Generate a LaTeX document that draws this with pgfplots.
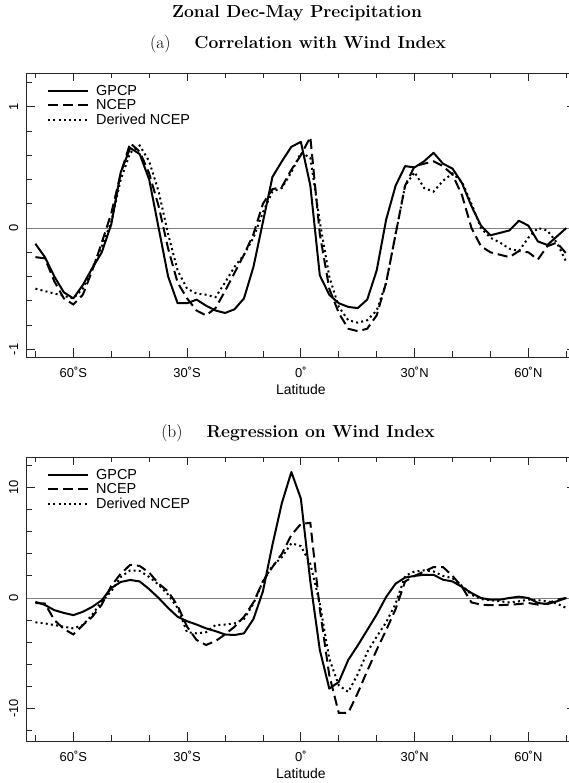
\documentclass[border=0pt]{standalone}
\usepackage{fontspec}
\usepackage{pgfplots}
\pgfplotsset{compat=1.18}
\usepackage{pgfplotstable}
\newfontfamily\hv{Liberation Sans}

\pgfplotstableread{
lat G N D
-70.0 -0.13 -0.24 -0.50
-67.5 -0.24 -0.25 -0.52
-65.0 -0.40 -0.44 -0.54
-62.5 -0.53 -0.58 -0.56
-60.0 -0.58 -0.63 -0.58
-57.5 -0.47 -0.55 -0.50
-55.0 -0.33 -0.35 -0.33
-52.5 -0.20 -0.12 -0.15
-50.0 0.03 0.12 0.05
-47.5 0.46 0.45 0.40
-45.0 0.66 0.70 0.62
-42.5 0.61 0.63 0.68
-40.0 0.40 0.45 0.55
-37.5 0.00 0.18 0.30
-35.0 -0.40 -0.17 -0.05
-32.5 -0.62 -0.45 -0.35
-30.0 -0.62 -0.58 -0.50
-27.5 -0.59 -0.68 -0.54
-25.0 -0.64 -0.72 -0.55
-22.5 -0.68 -0.66 -0.57
-20.0 -0.70 -0.52 -0.45
-17.5 -0.67 -0.37 -0.32
-15.0 -0.58 -0.22 -0.22
-12.5 -0.32 -0.05 -0.08
-10.0 0.05 0.20 0.13
-7.5 0.42 0.32 0.30
-5.0 0.55 0.34 0.33
-2.5 0.67 0.48 0.46
0.0 0.71 0.60 0.62
2.5 0.35 0.75 0.58
5.0 -0.39 -0.05 0.05
7.5 -0.55 -0.50 -0.40
10.0 -0.62 -0.70 -0.65
12.5 -0.65 -0.83 -0.76
15.0 -0.66 -0.85 -0.78
17.5 -0.59 -0.83 -0.76
20.0 -0.35 -0.72 -0.68
22.5 0.07 -0.45 -0.45
25.0 0.35 -0.05 -0.05
27.5 0.51 0.35 0.35
30.0 0.50 0.51 0.46
32.5 0.55 0.53 0.33
35.0 0.62 0.55 0.30
37.5 0.53 0.51 0.39
40.0 0.49 0.44 0.45
42.5 0.37 0.27 0.38
45.0 0.18 0.00 0.20
47.5 0.02 -0.15 0.00
50.0 -0.06 -0.20 -0.08
52.5 -0.04 -0.22 -0.12
55.0 -0.02 -0.24 -0.17
57.5 0.06 -0.19 -0.19
60.0 0.02 -0.20 -0.08
62.5 -0.11 -0.26 0.00
65.0 -0.14 -0.15 -0.02
67.5 -0.07 -0.12 -0.12
70.0 0.00 -0.21 -0.28
}\corr

\pgfplotstableread{
lat G N D
-70.0 -0.35 -0.45 -2.20
-67.5 -0.63 -0.50 -2.30
-65.0 -1.10 -2.00 -2.45
-62.5 -1.35 -2.80 -2.60
-60.0 -1.55 -3.30 -2.75
-57.5 -1.25 -2.45 -2.45
-55.0 -0.80 -1.70 -1.50
-52.5 -0.20 -0.60 -0.30
-50.0 0.90 1.10 0.60
-47.5 1.45 2.20 1.90
-45.0 1.63 3.00 2.50
-42.5 1.50 2.90 2.45
-40.0 0.80 2.30 1.90
-37.5 0.00 1.30 1.20
-35.0 -0.90 0.60 0.30
-32.5 -1.70 -0.70 -0.90
-30.0 -2.10 -2.60 -3.10
-27.5 -2.40 -3.80 -3.20
-25.0 -2.75 -4.25 -3.10
-22.5 -3.00 -3.90 -2.45
-20.0 -3.30 -3.30 -2.40
-17.5 -3.35 -2.60 -2.30
-15.0 -3.20 -1.70 -1.90
-12.5 -1.90 -0.40 -0.50
-10.0 0.60 1.50 1.50
-7.5 4.80 2.80 2.90
-5.0 8.60 4.00 3.70
-2.5 11.40 5.70 4.95
0.0 9.00 6.70 4.70
2.5 1.50 6.80 3.10
5.0 -4.70 -1.00 -0.50
7.5 -8.20 -7.00 -5.50
10.0 -7.60 -10.40 -7.90
12.5 -5.60 -10.40 -8.50
15.0 -4.30 -8.60 -6.90
17.5 -2.90 -6.60 -4.90
20.0 -1.50 -4.70 -3.50
22.5 0.10 -2.90 -2.20
25.0 1.30 -1.00 -0.50
27.5 1.85 1.50 2.00
30.0 2.00 2.00 2.40
32.5 2.10 2.40 2.50
35.0 2.10 2.80 2.40
37.5 1.65 2.80 2.00
40.0 1.50 2.00 1.80
42.5 1.00 1.00 1.10
45.0 0.45 -0.40 0.30
47.5 0.00 -0.60 -0.10
50.0 -0.15 -0.65 -0.20
52.5 -0.15 -0.65 -0.30
55.0 0.00 -0.60 -0.40
57.5 0.12 -0.55 -0.30
60.0 0.00 -0.45 -0.15
62.5 -0.45 -0.60 -0.20
65.0 -0.55 -0.50 -0.30
67.5 -0.30 -0.15 -0.50
70.0 0.00 0.00 -0.90
}\regr

\pgfplotsset{
  panel/.style={
    width=548.3bp, height=284bp, scale only axis,
    xmin=-72.3, xmax=72.3,
    xtick={-60,-30,0,30,60},
    xticklabels={60˚S,30˚S,0˚,30˚N,60˚N},
    minor xtick={-70,-50,-40,-20,-10,10,20,40,50,70},
    tick align=inside,
    major tick length=8.5bp, minor tick length=5.5bp,
    tick style={black!85, line width=0.8bp},
    axis line style={black!85, line width=0.8bp},
    ticklabel style={font=\hv\fontsize{13}{13}\selectfont},
    xticklabel style={yshift=-7bp},
    yticklabel style={xshift=-5bp, rotate=90, anchor=south},
    xlabel={Latitude},
    xlabel style={font=\hv\fontsize{14}{14}\selectfont, at={(axis description cs:0.5,0)}, anchor=center, yshift=-33bp},
    legend style={draw=none, fill=none, at={(axis description cs:0.037,0.962)}, anchor=north west,
      font=\hv\fontsize{14.5}{14.5}\selectfont, inner sep=0pt, row sep=1bp,
      nodes={inner sep=1bp}, cells={anchor=west},
      /tikz/every odd column/.append style={column sep=6bp}},
    legend image code/.code={\draw[#1] (0bp,0bp) -- (40bp,0bp);},
  },
  gp/.style={black, line width=2bp, line join=round},
  nc/.style={black, line width=2bp, dash pattern=on 10bp off 5bp},
  dn/.style={black, line width=2bp, dash pattern=on 2bp off 3.2bp},
}

\begin{document}
\begin{tikzpicture}[x=1bp,y=1bp]
\useasboundingbox (0,0) rectangle (569,783);
\node[font=\fontsize{17.5}{17.5}\selectfont\bfseries] at (297,770) {Zonal Dec-May Precipitation};
\node[font=\fontsize{17.5}{17.5}\selectfont] at (298,739) {(a)\hspace{24bp}\textbf{Correlation with Wind Index}};
\node[font=\fontsize{17.5}{17.5}\selectfont] at (298,350) {(b)\hspace{24bp}\textbf{Regression on Wind Index}};

\begin{axis}[panel, at={(26.7bp,426bp)}, anchor=south west,
  ymin=-1.063, ymax=1.278,
  ytick={-1,0,1}, yticklabels={-1,0,1},
  minor ytick={-0.8,-0.6,-0.4,-0.2,0.2,0.4,0.6,0.8,1.2}]
\addplot[gray, line width=1bp, forget plot] coordinates {(-72.3,0) (72.3,0)};
\addplot[gp] table[x=lat,y=G] {\corr};
\addlegendentry{GPCP}
\addplot[nc] table[x=lat,y=N] {\corr};
\addlegendentry{NCEP}
\addplot[dn] table[x=lat,y=D] {\corr};
\addlegendentry{Derived NCEP}
\end{axis}

\begin{axis}[panel, at={(26.7bp,42bp)}, anchor=south west,
  ymin=-12.94, ymax=12.76,
  ytick={-10,0,10}, yticklabels={-10,0,10},
  minor ytick={-12,-8,-6,-4,-2,2,4,6,8,12}]
\addplot[gray, line width=1bp, forget plot] coordinates {(-72.3,0) (72.3,0)};
\addplot[gp] table[x=lat,y=G] {\regr};
\addlegendentry{GPCP}
\addplot[nc] table[x=lat,y=N] {\regr};
\addlegendentry{NCEP}
\addplot[dn] table[x=lat,y=D] {\regr};
\addlegendentry{Derived NCEP}
\end{axis}
\end{tikzpicture}
\end{document}
